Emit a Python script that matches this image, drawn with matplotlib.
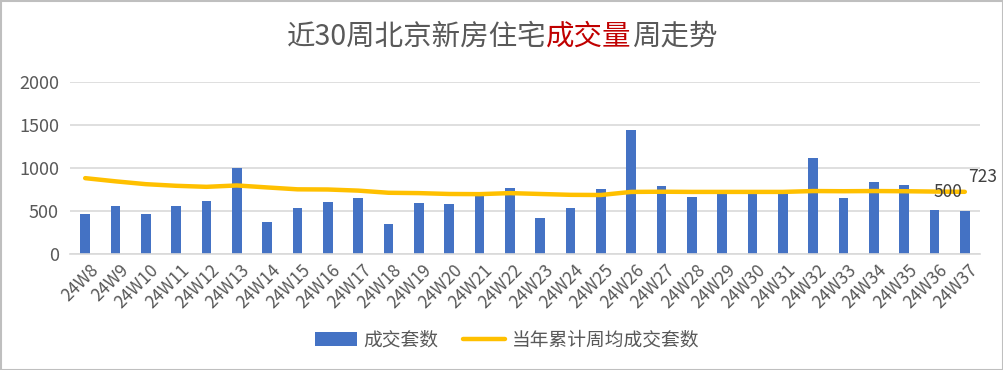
import matplotlib
matplotlib.use("Agg")
import matplotlib.pyplot as plt
from matplotlib.patches import Rectangle
import matplotlib.transforms as mtrans
import numpy as np

plt.rcParams['font.family'] = ['Noto Sans CJK SC', 'DejaVu Sans']

weeks = ["24W%d" % i for i in range(8, 38)]
deals = [460, 561, 468, 561, 619, 1003, 375, 538, 607, 654,
         352, 596, 584, 682, 770, 422, 538, 758, 1443, 793,
         665, 700, 700, 700, 1118, 654, 839, 805, 514, 500]
cum_avg = [882, 845, 812, 793, 781, 797, 774, 752, 750, 737,
           712, 708, 698, 696, 708, 698, 688, 686, 722, 724,
           722, 722, 722, 722, 732, 730, 732, 730, 726, 723]

bar_color = "#4472C4"
line_color = "#FFC000"
text_gray = "#595959"

fig = plt.figure(figsize=(10.04, 3.70), dpi=100)
ax = fig.add_axes([70/1004, 1-254/370, 910/1004, (254-82)/370])

x = np.arange(len(weeks))
bars = ax.bar(x, deals, width=0.31, color=bar_color, zorder=2, label="成交套数")
line, = ax.plot(x, cum_avg, color=line_color, lw=3.2, solid_capstyle='round',
                solid_joinstyle='round', zorder=3, label="当年累计周均成交套数")

ax.set_xlim(-0.5, len(weeks) - 0.5)
ax.set_ylim(0, 2000)
ax.set_yticks([0, 500, 1000, 1500, 2000])
ax.yaxis.grid(True, color="#D9D9D9", lw=1.2, zorder=0)
ax.set_axisbelow(True)
for s in ["top", "right", "left"]:
    ax.spines[s].set_visible(False)
ax.spines["bottom"].set_color("#D9D9D9")
ax.spines["bottom"].set_linewidth(1.2)
ax.tick_params(axis="both", length=0, colors=text_gray)
ax.tick_params(axis="y", labelsize=13, pad=8)
ax.set_xticks(x)
ax.set_xticklabels(weeks, rotation=45, ha="right", rotation_mode="anchor",
                   fontsize=12.5, color=text_gray)
ax.tick_params(axis="x", pad=5)
off = mtrans.ScaledTranslation(4/100, 0, fig.dpi_scale_trans)
for lab in ax.get_xticklabels():
    lab.set_transform(lab.get_transform() + off)

# data labels (offset in pixels from the data point)
def px_off(dx, dy):
    return ax.transData + mtrans.ScaledTranslation(dx/100, dy/100, fig.dpi_scale_trans)

ax.text(x[-1], deals[-1], "%d" % deals[-1], fontsize=12.5, color="#404040",
        ha="center", va="center", transform=px_off(-17, 19))
ax.text(x[-1], cum_avg[-1], "%d" % cum_avg[-1], fontsize=12.5, color="#404040",
        ha="center", va="center", transform=px_off(18, 15))

# multi-colour title
parts = [("近30周北京新房住宅", text_gray), ("成交量", "#C00000"), ("周走势", text_gray)]
fig.canvas.draw()
renderer = fig.canvas.get_renderer()
objs = []
total_w = 0
for txt, c in parts:
    t = fig.text(0, 0, txt, fontsize=20.5, color=c, va="center", fontweight="light")
    objs.append(t)
    total_w += t.get_window_extent(renderer).width
xpos = (502 - total_w / 2) / 1004
for t in objs:
    t.set_position((xpos, 1 - 37/370))
    xpos += t.get_window_extent(renderer).width / 1004

leg = fig.legend([bars, line], ["成交套数", "当年累计周均成交套数"],
                 loc="center", bbox_to_anchor=(507/1004, 1 - 340/370), ncol=2,
                 frameon=False, fontsize=13.5, handlelength=2.25, columnspacing=1.3,
                 handletextpad=0.35)
for txt in leg.get_texts():
    txt.set_color(text_gray)

fig.patches.append(Rectangle((0.5/1004, 0.5/370), 1 - 1.5/1004, 1 - 1.5/370,
                             transform=fig.transFigure, fill=False,
                             edgecolor="#BFBFBF", lw=1.5))

fig.savefig("out.png", dpi=100)
